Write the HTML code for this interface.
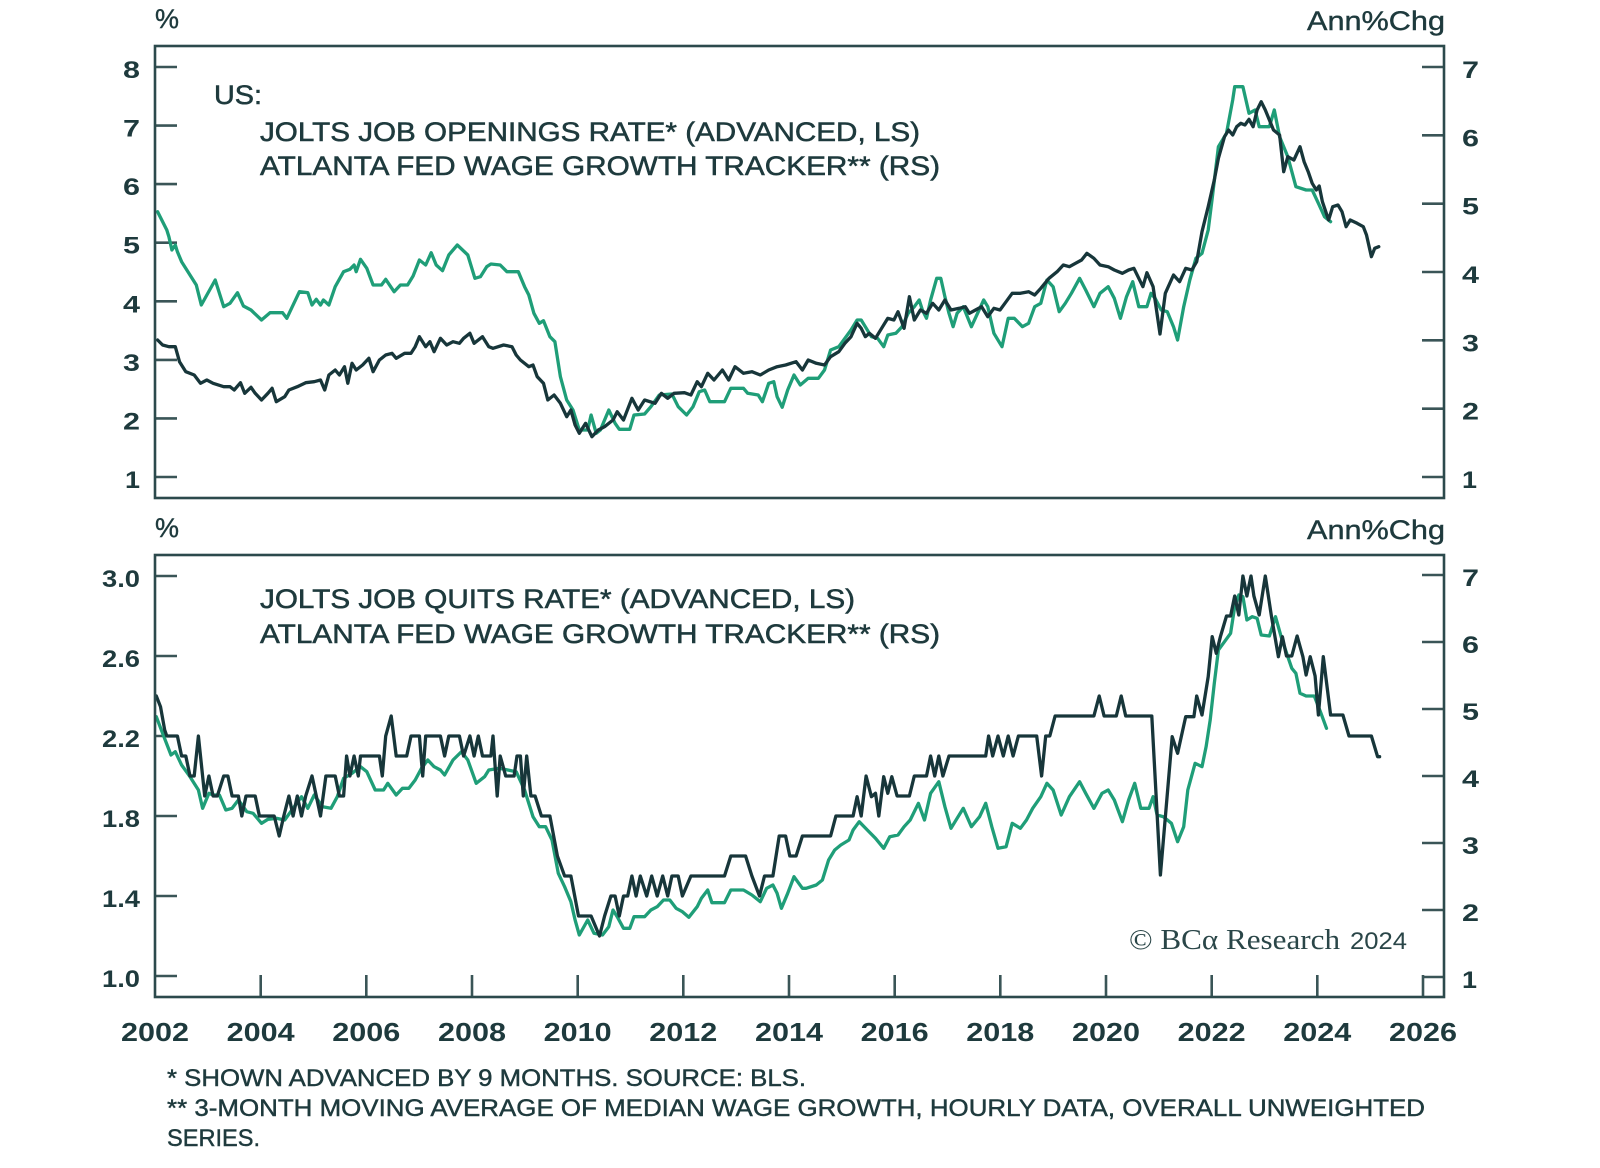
<!DOCTYPE html>
<html>
<head>
<meta charset="utf-8">
<style>
html,body{margin:0;padding:0;background:#ffffff;}
svg{display:block;}
.t{font-family:"Liberation Sans",sans-serif;fill:#1e3a3d;}
.lg{font-size:27px;stroke:#1e3a3d;stroke-width:0.55px;}
.tk{font-size:24px;font-weight:bold;}
.yr{font-size:26px;font-weight:bold;}
.fn{font-size:24px;stroke:#1e3a3d;stroke-width:0.45px;}
.un{font-size:27px;stroke:#1e3a3d;stroke-width:0.4px;}
.ax{fill:none;stroke:#2c4a4c;stroke-width:2.6;}
.tick{stroke:#3a5557;stroke-width:2.6;}
.g{fill:none;stroke:#1f9e78;stroke-width:3.3;stroke-linejoin:round;stroke-linecap:round;}
.d{fill:none;stroke:#17363a;stroke-width:3.3;stroke-linejoin:round;stroke-linecap:round;}
</style>
</head>
<body>
<svg width="1600" height="1168" viewBox="0 0 1600 1168" xmlns="http://www.w3.org/2000/svg">
<rect x="0" y="0" width="1600" height="1168" fill="#ffffff"/>

<!-- ===== TOP PANEL ===== -->
<text class="t un" x="155" y="28">%</text>
<text class="t un" x="1445" y="30" text-anchor="end" textLength="138" lengthAdjust="spacingAndGlyphs">Ann%Chg</text>

<!-- left ticks -->
<g class="tick">
<line x1="155" y1="67" x2="177" y2="67"/>
<line x1="155" y1="125.6" x2="177" y2="125.6"/>
<line x1="155" y1="184.1" x2="177" y2="184.1"/>
<line x1="155" y1="242.7" x2="177" y2="242.7"/>
<line x1="155" y1="301.3" x2="177" y2="301.3"/>
<line x1="155" y1="359.9" x2="177" y2="359.9"/>
<line x1="155" y1="418.4" x2="177" y2="418.4"/>
<line x1="155" y1="477" x2="177" y2="477"/>
<line x1="1422" y1="67" x2="1444" y2="67"/>
<line x1="1422" y1="135.3" x2="1444" y2="135.3"/>
<line x1="1422" y1="203.7" x2="1444" y2="203.7"/>
<line x1="1422" y1="272" x2="1444" y2="272"/>
<line x1="1422" y1="340.3" x2="1444" y2="340.3"/>
<line x1="1422" y1="408.7" x2="1444" y2="408.7"/>
<line x1="1422" y1="477" x2="1444" y2="477"/>
</g>
<g class="t tk" text-anchor="end">
<text x="140" y="78" textLength="17" lengthAdjust="spacingAndGlyphs">8</text>
<text x="140" y="136.6" textLength="17" lengthAdjust="spacingAndGlyphs">7</text>
<text x="140" y="195.1" textLength="17" lengthAdjust="spacingAndGlyphs">6</text>
<text x="140" y="253.7" textLength="17" lengthAdjust="spacingAndGlyphs">5</text>
<text x="140" y="312.3" textLength="17" lengthAdjust="spacingAndGlyphs">4</text>
<text x="140" y="370.9" textLength="17" lengthAdjust="spacingAndGlyphs">3</text>
<text x="140" y="429.4" textLength="17" lengthAdjust="spacingAndGlyphs">2</text>
<text x="140" y="488" textLength="15" lengthAdjust="spacingAndGlyphs">1</text>
</g>
<g class="t tk">
<text x="1462" y="78" textLength="17" lengthAdjust="spacingAndGlyphs">7</text>
<text x="1462" y="146.3" textLength="17" lengthAdjust="spacingAndGlyphs">6</text>
<text x="1462" y="214.7" textLength="17" lengthAdjust="spacingAndGlyphs">5</text>
<text x="1462" y="283" textLength="17" lengthAdjust="spacingAndGlyphs">4</text>
<text x="1462" y="351.3" textLength="17" lengthAdjust="spacingAndGlyphs">3</text>
<text x="1462" y="419.7" textLength="17" lengthAdjust="spacingAndGlyphs">2</text>
<text x="1462" y="488" textLength="15" lengthAdjust="spacingAndGlyphs">1</text>
</g>

<text class="t lg" x="214" y="104" textLength="48" lengthAdjust="spacingAndGlyphs">US:</text>
<text class="t lg" x="260" y="141" textLength="660" lengthAdjust="spacingAndGlyphs">JOLTS JOB OPENINGS RATE* (ADVANCED, LS)</text>
<text class="t lg" x="260" y="175" textLength="680" lengthAdjust="spacingAndGlyphs">ATLANTA FED WAGE GROWTH TRACKER** (RS)</text>

<polyline class="g" points="157.6,211.7 166.8,230 168.9,236.7 171.9,250 175.3,245 177.4,251.7 181.6,261.7 196.3,285 201.3,305 215.2,280 223.7,306.7 230,303.3 237.5,292.7 243.4,306 251,310 261.5,320 270,312.7 282.6,312.7 286.8,318.3 299.4,291.7 307.8,292.7 312,305 316.3,299.3 320.5,305 323.4,300 328.9,305 335.2,286.7 343.6,271.7 349.9,269.3 354.1,265 356.2,271.7 360.5,259.3 366.8,268.3 373.1,285 381.5,285 385.7,279.3 394.1,291.7 400.4,285 407.6,285 413.1,276 419.4,260 425.7,265 431.2,252.7 436.2,265 442.5,270.7 448.8,255 457.3,245 467.8,255 474.9,278.3 480.4,276.7 486.7,266.7 490.9,264 500.2,265 506.9,271.7 518.3,271.7 524.6,286.7 528.8,295 533.9,313.3 539.3,323.3 543.5,320.7 549.9,336.7 554.9,341.7 560.4,376.7 566.7,400 573,410 579.3,430 587.7,430 591.1,415 596.2,433.3 600.4,430 608.8,410 615.1,423.3 619.3,429.3 629.8,429.3 634,415 644.6,414 650.9,406.7 659.3,395 671.9,394 678.2,406.7 686.6,415 693,406.7 699.3,391.7 704.7,390 709.8,401.7 724.5,401.7 730.8,388.3 743.5,388.3 747.7,393.3 758.2,395 762.4,401.7 768.7,383.3 773.8,381.7 777.1,396.7 782.2,407.3 787.7,390 794,375 800.3,385 808.2,378.3 818.4,378.3 824.5,370 830.6,350 838.8,346.7 844.9,338.3 851,330 857.1,320 861.2,320 865.3,326.7 871.4,336.7 877.6,338.3 883.7,346.7 887.8,335 895.9,333.3 902,326.7 908.2,313.3 914.3,306.7 919.2,300 922.4,310 926.5,318.3 930.6,300 936.7,278.3 940.8,278.3 944.9,296.7 949,313.3 953.1,326.7 957.1,313.3 963.3,306.7 971.4,326.7 983.7,300 987.8,306.7 993.9,333.3 1002,346.7 1008.2,318.3 1014.3,318.3 1022.4,326.7 1028.6,323.3 1034.7,306.7 1040.8,303.3 1046.9,280 1053.1,286.7 1059.2,311.7 1065.3,303.3 1071.4,293.3 1079.6,278.3 1085.7,290 1093.9,306.7 1100,293.3 1108.2,286.7 1114.3,298.3 1120.4,318.3 1126.5,296.7 1132.7,281.7 1138.8,306.7 1146.9,306.7 1151,293.3 1155.1,298.3 1161.2,310 1167.3,311.7 1173.5,326.7 1177.6,340 1183.7,306.7 1189.8,280 1195.9,258.3 1202,253.3 1208.2,230 1212.2,198.3 1218.4,146.7 1226.5,133.3 1232.7,100 1234.7,86.7 1242.9,86.7 1249,113.3 1255.1,110 1259.2,126.7 1269.4,126.7 1274.3,110 1279.6,136.7 1287.8,156.7 1295.9,186.7 1306.1,190 1312.2,190 1318.4,203.3 1324.5,216.7 1330.6,221.7"/>
<polyline class="d" points="157.6,340 162.6,345 168.9,346.7 175.3,346.7 179.5,361.7 185.8,371.7 194.2,375 200.5,383.3 206.8,380 213.1,383.3 223.7,386.7 230,386.7 234.2,390 240.5,382.7 244.7,393.3 251,387.3 255.2,393.3 261.5,400 267.9,393.3 272.1,388.3 276.3,401.7 284.7,396.7 288.9,390 297.3,386.7 305.7,382.7 314.2,381.7 320.5,380 324.7,390 328.9,375 335.2,370 339.4,375 344.5,366.7 347.8,383.3 352,363.3 356.2,370 362.6,365 368.9,358.3 373.1,371.7 379.4,360 385.7,355 392,353.3 396.2,358.3 404.6,353.3 411,353.3 415.2,346.7 419.4,336.7 425.7,346.7 429.9,341.7 434.1,351.7 440.4,338.3 446.7,345 453,341.7 459.4,343.3 463.6,338.3 469.9,333.3 474.1,343.3 482.5,336.7 488.8,346.7 493,348.3 503.6,345 512,346.7 516.2,355 520.4,360 528.8,366.7 533,365 537.2,376.7 543.5,383.3 547.8,400 554.1,395 560.4,403.3 566.7,416.7 570.9,410 575.1,425 579.3,433.3 585.6,423.3 591.9,436.7 598.3,430 604.6,426.7 613,420 617.2,411.7 623.5,420 631.9,398.3 638.2,410 644.6,400 655.1,403.3 661.4,393.3 667.7,398.3 674,393.3 684.5,392.7 690.9,395 697.2,381.7 701.4,386.7 707.7,373.3 714,380 722.4,370 728.7,380 735,366.7 743.5,373.3 751.9,371.7 760.3,375 768.7,370 777.1,366.7 785.6,365 796.1,361.7 802.4,370 808.2,360 816.3,363.3 824.5,365 830.6,356.7 838.8,351.7 844.9,343.3 851,336.7 857.1,323.3 861.2,328.3 865.3,336.7 869.4,333.3 875.5,338.3 881.6,328.3 887.8,318.3 893.9,320 898,311.7 904.1,328.3 909.4,296.7 914.3,320 920.4,310 926.5,313.3 932.7,303.3 938.8,310 944.9,300 951,310 959.2,308.3 965.3,306.7 969.4,313.3 975.5,310 981.6,306.7 987.8,316.7 993.9,308.3 1000,310 1006.1,301.7 1012.2,293.3 1020.4,293.3 1028.6,291.7 1034.7,295 1040.8,288.3 1049,278.3 1057.1,271.7 1063.3,265 1069.4,266.7 1075.5,263.3 1081.6,260 1086.9,253.3 1093.9,258.3 1100,265 1108.2,266.7 1114.3,270 1122.4,273.3 1128.6,270 1133.9,268.3 1138.8,278.3 1142.9,286.7 1146.9,272.7 1153.1,286.7 1160,334 1165.3,293.3 1173.5,275 1179.6,281.7 1185.7,268.3 1191.8,270 1196.7,261.7 1202,231.7 1208.2,206.7 1214.3,180 1218.4,158.3 1224.5,136.7 1228.6,130 1232.7,135 1236.7,126.7 1240.8,123.3 1244.9,125 1249,119.3 1253.1,126.7 1257.1,110 1261.2,101.7 1265.3,110 1269.4,120 1273.5,130 1279.6,135 1283.7,171.7 1287.8,156.7 1293.9,160 1300,146.7 1304.1,161.7 1308.2,171.7 1312.2,183.3 1316.3,190 1319.2,186 1322.4,201.7 1328.6,220 1332.7,206.7 1338,205 1342,211.7 1346.1,226.7 1350.2,220 1357.1,223.3 1363.3,226.7 1366.5,235 1371.4,256.7 1374.7,248.3 1378.8,246.7"/>

<rect class="ax" x="155" y="46" width="1289" height="452"/>

<!-- ===== BOTTOM PANEL ===== -->
<text class="t un" x="155" y="537">%</text>
<text class="t un" x="1445" y="539" text-anchor="end" textLength="138" lengthAdjust="spacingAndGlyphs">Ann%Chg</text>

<g class="tick">
<line x1="155" y1="576" x2="177" y2="576"/>
<line x1="155" y1="656" x2="177" y2="656"/>
<line x1="155" y1="736" x2="177" y2="736"/>
<line x1="155" y1="816" x2="177" y2="816"/>
<line x1="155" y1="896" x2="177" y2="896"/>
<line x1="155" y1="976" x2="177" y2="976"/>
<line x1="1422" y1="575" x2="1444" y2="575"/>
<line x1="1422" y1="642" x2="1444" y2="642"/>
<line x1="1422" y1="709" x2="1444" y2="709"/>
<line x1="1422" y1="776" x2="1444" y2="776"/>
<line x1="1422" y1="843" x2="1444" y2="843"/>
<line x1="1422" y1="910" x2="1444" y2="910"/>
<line x1="1422" y1="977" x2="1444" y2="977"/>
<!-- x ticks -->
<line x1="260.7" y1="975" x2="260.7" y2="997"/>
<line x1="366.3" y1="975" x2="366.3" y2="997"/>
<line x1="472" y1="975" x2="472" y2="997"/>
<line x1="577.7" y1="975" x2="577.7" y2="997"/>
<line x1="683.3" y1="975" x2="683.3" y2="997"/>
<line x1="789" y1="975" x2="789" y2="997"/>
<line x1="894.7" y1="975" x2="894.7" y2="997"/>
<line x1="1000.3" y1="975" x2="1000.3" y2="997"/>
<line x1="1106" y1="975" x2="1106" y2="997"/>
<line x1="1211.7" y1="975" x2="1211.7" y2="997"/>
<line x1="1317.3" y1="975" x2="1317.3" y2="997"/>
<line x1="1423" y1="975" x2="1423" y2="997"/>
</g>
<g class="t tk" text-anchor="end">
<text x="140" y="587" textLength="38" lengthAdjust="spacingAndGlyphs">3.0</text>
<text x="140" y="667" textLength="38" lengthAdjust="spacingAndGlyphs">2.6</text>
<text x="140" y="747" textLength="38" lengthAdjust="spacingAndGlyphs">2.2</text>
<text x="140" y="827" textLength="38" lengthAdjust="spacingAndGlyphs">1.8</text>
<text x="140" y="907" textLength="38" lengthAdjust="spacingAndGlyphs">1.4</text>
<text x="140" y="987" textLength="38" lengthAdjust="spacingAndGlyphs">1.0</text>
</g>
<g class="t tk">
<text x="1462" y="586" textLength="17" lengthAdjust="spacingAndGlyphs">7</text>
<text x="1462" y="653" textLength="17" lengthAdjust="spacingAndGlyphs">6</text>
<text x="1462" y="720" textLength="17" lengthAdjust="spacingAndGlyphs">5</text>
<text x="1462" y="787" textLength="17" lengthAdjust="spacingAndGlyphs">4</text>
<text x="1462" y="854" textLength="17" lengthAdjust="spacingAndGlyphs">3</text>
<text x="1462" y="921" textLength="17" lengthAdjust="spacingAndGlyphs">2</text>
<text x="1462" y="988" textLength="15" lengthAdjust="spacingAndGlyphs">1</text>
</g>

<text class="t lg" x="260" y="608" textLength="595" lengthAdjust="spacingAndGlyphs">JOLTS JOB QUITS RATE* (ADVANCED, LS)</text>
<text class="t lg" x="260" y="643" textLength="680" lengthAdjust="spacingAndGlyphs">ATLANTA FED WAGE GROWTH TRACKER** (RS)</text>

<polyline class="g" points="156.3,716.7 162.6,733.3 171,755 175.3,751.7 181.6,765 190,776.7 198.4,790 202.6,808.3 208.9,793.3 213.1,795 219.4,795 225.8,810 232.1,808.3 238.4,800 246.8,811.7 253.1,813.3 261.5,823.3 267.9,819.3 276.3,818.3 284.7,820 293.1,808.3 301.5,796.7 307.8,808.3 314.2,795 322.6,806.7 331,808.3 337.3,796.7 343.6,778.3 352,773.3 360.5,766.7 366.8,771.7 375.2,790 383.6,790 387.8,783.3 396.2,795 402.5,788.3 408.9,788.3 415.2,780 421.5,768.3 427.8,760 434.1,766.7 440.4,770 444.6,775 453,760 461.5,751.7 467.8,760 476.2,783.3 484.6,776.7 488.8,770 499.3,768.3 507.8,770 516.2,771.7 524.6,790 533,816.7 539.3,826.7 545.6,826.7 552,840 558.3,873.3 564.6,886.7 570.9,901.7 575.1,920 579.3,935 587.7,920 594,933.3 602.5,935 608.8,926.7 613,910 617.2,916.7 623.5,928.3 629.8,928.3 634,916.7 644.6,916.7 650.9,910 657.2,906.7 663.5,900 669.8,900 676.1,908.3 682.4,911.7 688.8,917.3 697.2,906.7 701.4,898.3 707.7,890 711.9,902.7 724.5,902.7 730.8,890 743.5,890 751.9,895 760.3,901.7 766.6,888.3 772.9,885 777.1,893.3 781.4,908.3 787.7,893.3 794,876.7 802.4,888.3 806.1,888.3 816.3,885 822.4,880 828.6,860 834.7,850 840.8,845 849,840 853.1,830 859.2,821.7 867.3,830 875.5,838.3 883.7,848.3 889.8,836.7 898,835 904.1,826.7 910.2,820 918.4,803.3 924.5,820 930.6,793.3 938.8,781.7 944.9,806.7 951,828.3 957.1,818.3 963.3,808.3 971.4,826.7 979.6,816.7 985.7,803.3 991.8,826.7 998,848.3 1006.1,846.7 1012.2,823.3 1020.4,828.3 1026.5,820 1032.7,808.3 1040.8,796.7 1046.9,783.3 1053.1,790 1061.2,815 1069.4,796.7 1079.6,781.7 1085.7,793.3 1093.9,808.3 1102,793.3 1108.2,790 1114.3,800 1122.4,821.7 1128.6,800 1134.7,783.3 1140.8,808.3 1149,808.3 1153.1,796.7 1157.1,815 1163.3,816.7 1171.4,823.3 1177.6,841.7 1183.7,826.7 1187.8,790 1195.1,763.3 1202,766.7 1206.1,746.7 1210.2,720 1214.3,683.3 1218.4,650 1224.5,641.7 1230.6,633.3 1234.7,606.7 1238.8,595 1242.9,596.7 1246.9,620 1252.2,616.7 1257.1,618.3 1261.2,635 1269.4,636 1275.5,616.7 1281.6,638.3 1287.8,656.7 1291.8,668.3 1295.9,673.3 1300,693.3 1306.1,696 1314.3,696 1320.4,711.7 1326.5,728.3"/>
<polyline class="d" points="156.3,696 160.5,706.7 164.7,730 166.8,736 177.4,736 181.6,756 185.8,756 190,776 194.2,776 198.4,736 202.6,776 204.7,796 208.9,776 213.1,796 217.3,796 223.7,776 227.9,776 232.1,796 238.4,796 241.8,816 246,796 255.2,796 259.4,816 274.2,816 279.2,836 283.8,816 288.9,796 293.1,816 297.3,796 301.5,816 305.7,796 312,776 316.3,796 320.5,816 325.9,776 335.2,776 339.4,796 343.6,796 346.6,756 349.9,776 354.1,756 358.3,776 360.5,756 379.4,756 382.3,776 385.7,736 391.2,716 396.2,756 406.7,756 411,736 419.4,736 422.7,776 425.7,736 440.4,736 444.6,756 448.8,736 459.4,736 463.6,756 469.9,736 474.1,756 478.3,736 482.5,756 490.9,756 493,736 497.2,796 500.2,756 505.7,776 514.1,776 517,756 520.4,756 523.3,796 526.7,756 530.9,796 535.1,796 541.4,816 549.9,816 557.4,856 564.6,876 570.9,876 578.5,916 591.1,916 599.5,936 604.6,916 610.9,896 615.1,896 619.3,916 623.5,896 627.7,896 631.9,876 636.1,896 640.3,876 646.7,896 651.7,876 657.2,896 662.7,876 667.7,896 671.9,876 678.2,876 682.4,896 690.9,876 724.5,876 730.8,856 745.6,856 751.9,876 759.5,896 764.5,876 772.9,876 779.2,836 785.6,836 789.8,856 796.1,856 802.4,836 830.6,836 835.9,816 853.1,816 857.1,796.7 861.2,816 866.1,776 871.4,796.7 875.5,793.3 878.8,816 883.7,776.7 887.8,793.3 891.8,776.7 897.1,796 909.4,796 914.3,776 926.5,776 930.6,756 934.7,776 938.8,756 942.9,776 949,756 985.7,756 988.6,736 992.7,756 998,736 1003.3,756 1008.2,736 1013.1,756 1018.4,736 1036.7,736 1041.6,776 1045.7,736 1049.8,736 1055.1,716 1093.9,716 1099.2,696 1104.1,716 1116.3,716 1121.2,696 1125.7,716 1151.8,716 1160.4,875 1172.2,736.7 1177.6,753.3 1185.7,716.7 1193.9,716.7 1196.7,696 1202,715 1208.2,676.7 1212.2,636.7 1216.3,653.3 1220.4,636.7 1226.5,616 1230.6,616 1234.7,596 1238.8,615 1242.9,576 1246.9,596 1251,576 1253.9,596 1259.2,615 1265.3,576 1271.4,616 1278.4,656.7 1282.4,636.7 1286.5,656 1291.8,656 1297.1,636 1302.9,656.7 1306.1,675 1310.2,656.7 1315.1,676 1318.4,715 1323.3,656.7 1330.6,715 1342.9,715 1349,736 1371.4,736 1377.6,756.7 1379.6,756.7"/>

<rect class="ax" x="155" y="555" width="1289" height="442"/>

<!-- logo -->
<text x="1129" y="949" font-family="Liberation Serif, serif" font-size="29" fill="#2a4648" textLength="211" lengthAdjust="spacingAndGlyphs">© BCα Research</text>
<text x="1407" y="949" font-family="Liberation Sans, sans-serif" font-size="24" fill="#2a4648" text-anchor="end" textLength="57" lengthAdjust="spacingAndGlyphs">2024</text>

<!-- year labels -->
<g class="t yr" text-anchor="middle">
<text x="155" y="1041" textLength="68" lengthAdjust="spacingAndGlyphs">2002</text>
<text x="260.7" y="1041" textLength="68" lengthAdjust="spacingAndGlyphs">2004</text>
<text x="366.3" y="1041" textLength="68" lengthAdjust="spacingAndGlyphs">2006</text>
<text x="472" y="1041" textLength="68" lengthAdjust="spacingAndGlyphs">2008</text>
<text x="577.7" y="1041" textLength="68" lengthAdjust="spacingAndGlyphs">2010</text>
<text x="683.3" y="1041" textLength="68" lengthAdjust="spacingAndGlyphs">2012</text>
<text x="789" y="1041" textLength="68" lengthAdjust="spacingAndGlyphs">2014</text>
<text x="894.7" y="1041" textLength="68" lengthAdjust="spacingAndGlyphs">2016</text>
<text x="1000.3" y="1041" textLength="68" lengthAdjust="spacingAndGlyphs">2018</text>
<text x="1106" y="1041" textLength="68" lengthAdjust="spacingAndGlyphs">2020</text>
<text x="1211.7" y="1041" textLength="68" lengthAdjust="spacingAndGlyphs">2022</text>
<text x="1317.3" y="1041" textLength="68" lengthAdjust="spacingAndGlyphs">2024</text>
<text x="1423" y="1041" textLength="68" lengthAdjust="spacingAndGlyphs">2026</text>
</g>

<!-- footnotes -->
<text class="t fn" x="167" y="1086" textLength="639" lengthAdjust="spacingAndGlyphs">* SHOWN ADVANCED BY 9 MONTHS. SOURCE: BLS.</text>
<text class="t fn" x="167" y="1116" textLength="1258" lengthAdjust="spacingAndGlyphs">** 3-MONTH MOVING AVERAGE OF MEDIAN WAGE GROWTH, HOURLY DATA, OVERALL UNWEIGHTED</text>
<text class="t fn" x="167" y="1146" textLength="93" lengthAdjust="spacingAndGlyphs">SERIES.</text>
</svg>
</body>
</html>
